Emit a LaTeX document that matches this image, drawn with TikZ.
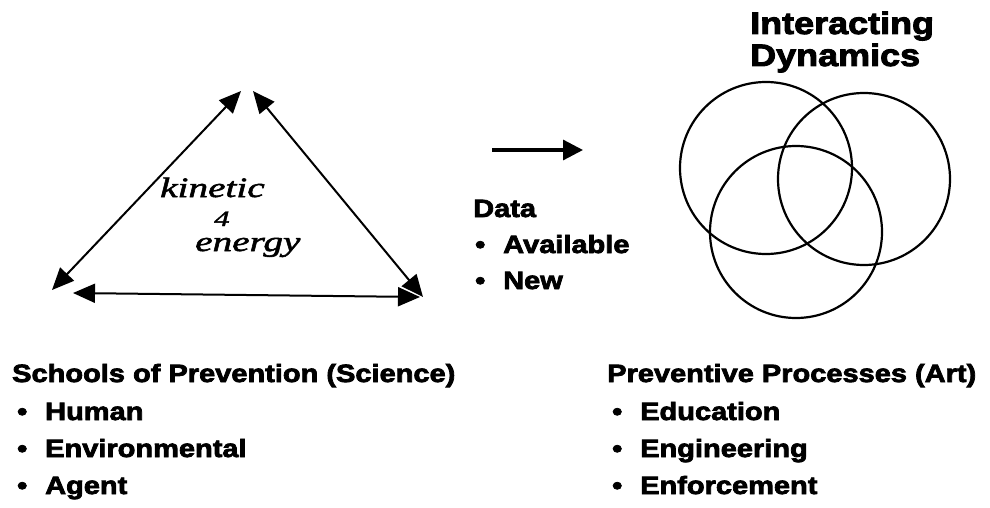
\documentclass[tikz,border=0pt]{standalone}
\usepackage{fontspec}
\setmainfont{Liberation Sans}[BoldFeatures={FakeBold=3,FakeStretch=1.16}]
\newfontfamily\handfont{Liberation Serif}[FakeStretch=1.4,FakeBold=2]
\usetikzlibrary{arrows.meta}
\tikzset{
  sphead/.style={anchor=base west, inner sep=0pt, font=\fontsize{25}{30}\selectfont\bfseries},
  spitem/.style={sphead},
  sptitle/.style={sphead, font=\fontsize{31}{36}\selectfont\bfseries},
  sphand/.style={anchor=base west, inner sep=0pt, font=\handfont\itshape\fontsize{28}{30}\selectfont},
  spring/.style={circle, draw=black, line width=2.2pt, minimum size=172pt, inner sep=0pt},
  spside/.style={{Triangle[length=22pt,width=19pt]}-{Triangle[length=22pt,width=19pt]}, line width=2pt, draw=black},
  sparrow/.style={-{Triangle[length=20pt,width=20pt]}, line width=3.2pt, draw=black}
}
\newcommand{\spbul}[1]{\makebox[28pt][l]{\textbullet}#1}

\begin{document}
\begin{tikzpicture}[x=1pt,y=-1pt]
  \useasboundingbox (0,0) rectangle (990,508);
  % triangle of the three schools
  \coordinate (apexl) at (241,91);
  \coordinate (apexr) at (253,91);
  \coordinate (botl) at (52,290);
  \coordinate (botlb) at (73,293);
  \coordinate (botr) at (423,297);
  \coordinate (botrb) at (420,297);
  \draw[spside] (apexl) -- (botl);
  \draw[spside] (apexr) -- (botr);
  \draw[spside] (botlb) -- (botrb);
  \node[sphand] (kin) at (160,197) {kinetic};
  \node[sphand, font=\handfont\itshape\fontsize{22}{24}\selectfont] (amp) at (214,226) {4};
  \node[sphand] (en) at (195,251) {energy};
  % data
  \coordinate (arrfrom) at (492,150);
  \coordinate (arrto) at (583,150);
  \draw[sparrow] (arrfrom) -- (arrto);
  \node[sphead] (data) at (473,217) {Data};
  \node[spitem] (avail) at (475,253) {\spbul{Available}};
  \node[spitem] (new) at (475,289) {\spbul{New}};
  % interacting dynamics
  \node[sptitle] (ttl1) at (750,34) {Interacting};
  \node[sptitle] (ttl2) at (750,66) {Dynamics};
  \node[spring] (ca) at (766,168) {};
  \node[spring] (cb) at (864,179) {};
  \node[spring] (cc) at (796,232) {};
  % lists
  \node[sphead] (sch) at (12,382) {Schools of Prevention (Science)};
  \node[spitem] (hum) at (17,420) {\spbul{Human}};
  \node[spitem] (env) at (17,457) {\spbul{Environmental}};
  \node[spitem] (agt) at (17,494) {\spbul{Agent}};
  \node[sphead] (prc) at (607,382) {Preventive Processes (Art)};
  \node[spitem] (edu) at (612,420) {\spbul{Education}};
  \node[spitem] (eng) at (612,457) {\spbul{Engineering}};
  \node[spitem] (enf) at (612,494) {\spbul{Enforcement}};
\end{tikzpicture}
\end{document}
